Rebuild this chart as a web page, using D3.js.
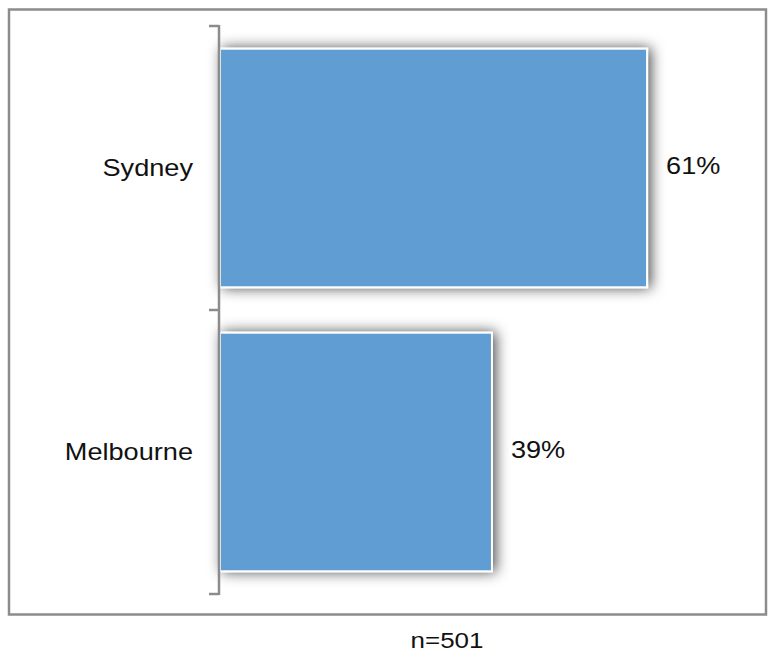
<!DOCTYPE html>
<html>
<head>
<meta charset="utf-8">
<script src="https://cdn.jsdelivr.net/npm/d3@7"></script>
<style>
  body { margin: 0; background: #fff; }
  svg { display: block; font-family: Arial, "Liberation Sans", sans-serif; }
</style>
</head>
<body>
<svg id="chart" width="768" height="666"></svg>
<script>
// data
var cities = ["Sydney", "Melbourne"];
var shares = [0.61, 0.39];
var shareLabels = ["61%", "39%"];
var note = "n=501";

var svg = d3.select("#chart");
var stretch = 1.18; // text in the source is a bit wide

var defs = svg.append("defs");
var shadow = defs.append("filter")
  .attr("id", "shadow")
  .attr("x", "-20%").attr("y", "-20%")
  .attr("width", "140%").attr("height", "140%");
shadow.append("feDropShadow")
  .attr("dx", 3).attr("dy", 0)
  .attr("stdDeviation", 7)
  .attr("flood-color", "#000")
  .attr("flood-opacity", 0.7);

// outer frame
svg.append("rect")
  .attr("x", 9).attr("y", 9.5)
  .attr("width", 757).attr("height", 605)
  .attr("fill", "none")
  .attr("stroke", "#8c8c8c")
  .attr("stroke-width", 2.5);

var x = d3.scaleLinear().domain([0, 1]).range([218, 923]);
var y = d3.scaleBand().domain(cities).range([26, 594])
  .paddingInner(0.16).paddingOuter(0.08);

var rows = cities.map(function(c, i) {
  return { city: c, value: shares[i], label: shareLabels[i] };
});

svg.append("g").selectAll("rect")
  .data(rows)
  .enter().append("rect")
  .attr("x", x(0) + 2)
  .attr("y", function(d) { return y(d.city); })
  .attr("width", function(d) { return x(d.value) - x(0) - 3; })
  .attr("height", y.bandwidth())
  .attr("fill", "#5f9dd2")
  .attr("stroke", "#fff")
  .attr("stroke-width", 2)
  .attr("filter", "url(#shadow)");

// category axis with ticks at band edges
var axisG = svg.append("g").attr("stroke", "#8c8c8c").attr("stroke-width", 2.5);
axisG.append("line")
  .attr("x1", 219).attr("x2", 219)
  .attr("y1", 25).attr("y2", 595);
var edges = [y.range()[0]].concat(cities.map(function(c) { return y(c) - y.step() * y.paddingOuter() + y.step(); }));
axisG.selectAll(".tick")
  .data(edges)
  .enter().append("line")
  .attr("x1", 209).attr("x2", 219)
  .attr("y1", function(d) { return d; })
  .attr("y2", function(d) { return d; });

// category labels
svg.append("g").selectAll("text")
  .data(rows)
  .enter().append("text")
  .attr("transform", function(d) {
    return "translate(193," + (y(d.city) + y.bandwidth() / 2 + 8) + ") scale(" + stretch + ",1)";
  })
  .attr("text-anchor", "end")
  .attr("font-size", 23)
  .attr("fill", "#111")
  .text(function(d) { return d.city; });

// value labels
svg.append("g").selectAll("text")
  .data(rows)
  .enter().append("text")
  .attr("transform", function(d) {
    return "translate(" + (x(d.value) + 18) + "," + (y(d.city) + y.bandwidth() / 2 + 6) + ") scale(" + stretch + ",1)";
  })
  .attr("font-size", 23)
  .attr("fill", "#111")
  .text(function(d) { return d.label; });

svg.append("text")
  .attr("transform", "translate(447,648) scale(" + stretch + ",1)")
  .attr("text-anchor", "middle")
  .attr("font-size", 22)
  .attr("fill", "#111")
  .text(note);
</script>
</body>
</html>
